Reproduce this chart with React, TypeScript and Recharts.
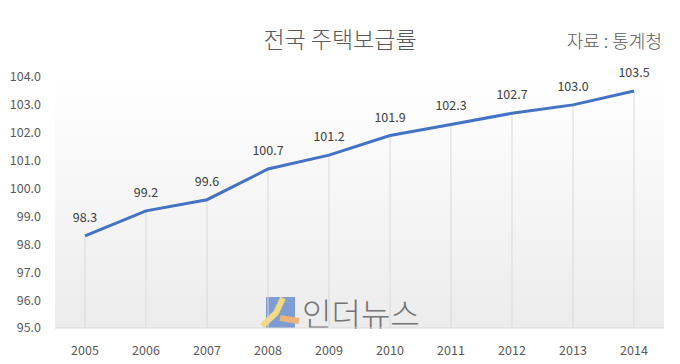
import React from 'react';
import { LineChart, Line, XAxis, YAxis, CartesianGrid, LabelList, ReferenceLine } from 'recharts';

const years = ['2005', '2006', '2007', '2008', '2009', '2010', '2011', '2012', '2013', '2014'];
const rates = [98.3, 99.2, 99.6, 100.7, 101.2, 101.9, 102.3, 102.7, 103.0, 103.5];
const yTicks = [95, 96, 97, 98, 99, 100, 101, 102, 103, 104];
const title = '전국 주택보급률';
const source = '자료 : 통계청';
const watermark = '인더뉴스';

const data = years.map((y, i) => ({ year: y, rate: rates[i] }));
const FONT = '"Noto Sans CJK KR", "Noto Sans", sans-serif';

export default function App() {
  return (
    <div style={{ position: 'absolute', left: 0, top: 0, width: 680, height: 364, background: '#fff', fontFamily: FONT }}>
      <LineChart width={680} height={364} data={data} margin={{ top: 77, right: 16, bottom: 6, left: 7 }}>
        <defs>
          <linearGradient id="bg" x1="0" y1="0" x2="0" y2="1">
            <stop offset="0%" stopColor="#ffffff" />
            <stop offset="100%" stopColor="#ececec" />
          </linearGradient>
        </defs>
        <CartesianGrid horizontal={false} vertical={false} fill="url(#bg)" />
        <XAxis dataKey="year" axisLine={{ stroke: '#d9d9d9' }} tickLine={false} tickMargin={12} height={30}
          padding={{ left: 30, right: 30 }} interval={0}
          tick={{ fill: '#595959', fontSize: 12.5, fontFamily: FONT }} />
        <YAxis domain={[95, 104]} ticks={yTicks} axisLine={false} tickLine={false} width={48} tickMargin={8}
          tickFormatter={(v: number) => v.toFixed(1)} tick={{ fill: '#595959', fontSize: 12.5, fontFamily: FONT }} interval={0} />
        {data.map((d) => (
          <ReferenceLine key={d.year} segment={[{ x: d.year, y: 95 }, { x: d.year, y: d.rate }]} stroke="#d9d9d9" strokeWidth={1} />
        ))}
        <Line type="linear" dataKey="rate" stroke="#4472C4" strokeWidth={3} dot={false} isAnimationActive={false}>
          <LabelList dataKey="rate" position="top" offset={14} formatter={(v: number) => v.toFixed(1)}
            style={{ fill: '#404040', fontSize: 12.5, fontFamily: FONT }} />
        </Line>
        <text x={340} y={48} textAnchor="middle" fill="#595959" fontSize={23} fontWeight={300} fontFamily={FONT}>{title}</text>
        <text x={662} y={48} textAnchor="end" fill="#595959" fontSize={18} fontWeight={300} fontFamily={FONT}>{source}</text>
        <g opacity={0.85}>
          <rect x={266} y={297} width={29} height={31} fill="#6a8fcf" />
          <path d="M283 298 L276 313 L262 326" stroke="#f5d76e" strokeWidth={6} fill="none" />
          <path d="M280 318 L299 321" stroke="#f0a868" strokeWidth={6} fill="none" />
          <text x={302} y={326} fill="#606060" fontSize={32} fontWeight={300} fontFamily={FONT}>{watermark}</text>
        </g>
      </LineChart>
    </div>
  );
}
